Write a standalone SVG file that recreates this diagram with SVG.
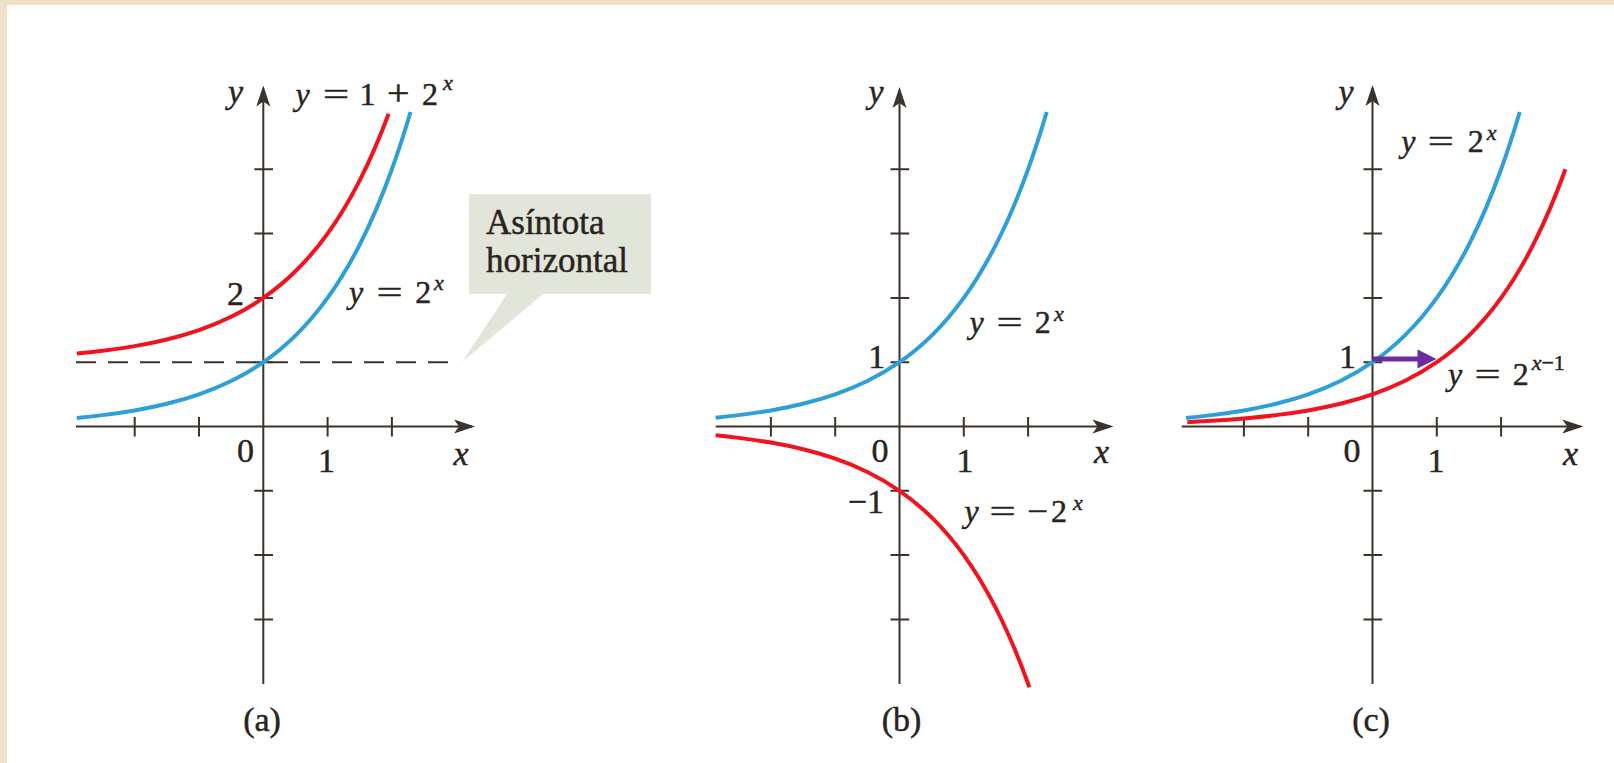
<svg xmlns="http://www.w3.org/2000/svg" xmlns:xlink="http://www.w3.org/1999/xlink" width="1614" height="763" viewBox="0 0 1614 763">
<style>
.t{font-family:"Liberation Serif","Times New Roman",serif;fill:#2a2420;stroke:#2a2420;stroke-width:0.45}
.lab{font-size:34px}
.eq{font-size:32px}
.sup{font-size:22px}
.cap{font-size:35px}
.i{font-style:italic}
.m{text-anchor:middle}
.ax{stroke:#3b332c;stroke-width:2;fill:none}
.tick{stroke:#3b332c;stroke-width:2}
.blue{stroke:#2e9fd8;fill:none;stroke-width:0.0622}
.red{stroke:#f0141e;fill:none;stroke-width:0.0622}
</style>
<defs>
<marker id="axArrow" viewBox="-20 -8 24 16" refX="0" refY="0" markerWidth="24" markerHeight="16" orient="auto" markerUnits="userSpaceOnUse">
<path d="M3,0 L-18,-7 L-13,0 L-18,7 Z" fill="#3b332c"/>
</marker>
<marker id="shiftArrow" viewBox="-14 -10 22 20" refX="0" refY="0" markerWidth="22" markerHeight="20" orient="auto" markerUnits="userSpaceOnUse">
<path d="M6.5,0 L-12.5,-9.5 L-12.5,9.5 Z" fill="#6b2d9e"/>
</marker>
<path id="exp" d="M-2.9 0.133975 C-2.7667 0.146357 -2.6333 0.160439 -2.5 0.176777 C-2.3333 0.197199 -2.1667 0.221119 -2 0.25 C-1.8333 0.278881 -1.6667 0.312709 -1.5 0.353553 C-1.3333 0.394397 -1.1667 0.442238 -1 0.5 C-0.8333 0.557762 -0.6667 0.625419 -0.5 0.707107 C-0.3333 0.788795 -0.1667 0.884476 0 1 C0.1667 1.115525 0.3333 1.250838 0.5 1.414214 C0.6667 1.57759 0.8333 1.768951 1 2 C1.1667 2.231049 1.3333 2.501677 1.5 2.828427 C1.6667 3.155183 1.8333 3.537902 2 4 C2.0967 4.268017 2.1933 4.56287 2.29 4.89056"/>
</defs>

<rect x="0" y="0" width="1614" height="763" fill="#efe2c8"/>
<rect x="7" y="5" width="1607" height="758" fill="#ffffff"/>

<!-- Panel (a) -->
<g id="panel-a">
<path d="M469 194 H651 V294 H543 L462 362 L507 294 H469 Z" fill="#e2e6da"/>
<g id="axes-a">
<path class="ax" d="M263.3 684 V88.5" marker-end="url(#axArrow)"/>
<path class="ax" d="M76 426.5 H472" marker-end="url(#axArrow)"/>
<path class="tick" d="M134.7 417 V436.5 M199 417 V436.5 M327.6 417 V436.5 M391.9 417 V436.5 M254.3 169.3 H273 M254.3 233.6 H273 M254.3 297.9 H273 M254.3 362.2 H273 M254.3 490.8 H273 M254.3 555.1 H273 M254.3 619.4 H273"/>
<path d="M76 362.2 H456" stroke="#3b332c" stroke-width="2" stroke-dasharray="20 12" fill="none"/>
</g>
<g id="curves-a">
<use xlink:href="#exp" class="blue" transform="translate(263.3,426.5) scale(64.3,-64.3)"/>
<path class="red" transform="translate(263.3,362.2) scale(64.3,-64.3)" d="M-2.9 0.133975 C-2.7667 0.146357 -2.6333 0.160439 -2.5 0.176777 C-2.3333 0.197199 -2.1667 0.221119 -2 0.25 C-1.8333 0.278881 -1.6667 0.312709 -1.5 0.353553 C-1.3333 0.394397 -1.1667 0.442238 -1 0.5 C-0.8333 0.557762 -0.6667 0.625419 -0.5 0.707107 C-0.3333 0.788795 -0.1667 0.884476 0 1 C0.1667 1.115525 0.3333 1.250838 0.5 1.414214 C0.6667 1.57759 0.8333 1.768951 1 2 C1.1667 2.231049 1.3333 2.501677 1.5 2.828427 C1.65 3.122504 1.8 3.462019 1.95 3.86374"/>
</g>
<g id="labels-a">
<text class="t lab i m" x="235.5" y="103">y</text>
<text class="t eq i m" x="302.5" y="105">y</text>
<text class="t eq m" transform="translate(336,105) scale(1.45,1)">=</text>
<text class="t eq m" x="367.5" y="105">1</text>
<text class="t eq m" transform="translate(398.4,105) scale(1.25,1.1)">+</text>
<text class="t eq m" x="430" y="105">2</text>
<text class="t sup i m" x="448" y="90">x</text>
<text class="t lab m" x="235.5" y="305">2</text>
<text class="t eq i m" x="356" y="303.3">y</text>
<text class="t eq m" transform="translate(389.7,303.3) scale(1.45,1)">=</text>
<text class="t eq m" x="423.3" y="303.3">2</text>
<text class="t sup i m" x="439" y="290">x</text>
<text class="t lab m" x="245.5" y="461.5">0</text>
<text class="t lab m" x="326.4" y="471.5">1</text>
<text class="t lab i m" x="461" y="465">x</text>
<text class="t cap" x="486" y="234">Asíntota</text>
<text class="t cap" x="486" y="271.7">horizontal</text>
<text class="t lab m" x="262" y="731">(a)</text>
</g>
</g>

<!-- Panel (b) -->
<g id="panel-b">
<g id="axes-b">
<path class="ax" d="M899.5 684 V90" marker-end="url(#axArrow)"/>
<path class="ax" d="M715.7 426.5 H1110.5" marker-end="url(#axArrow)"/>
<path class="tick" d="M770.9 417 V436.5 M835.2 417 V436.5 M963.8 417 V436.5 M1028.1 417 V436.5 M890.5 169.3 H909.2 M890.5 233.6 H909.2 M890.5 297.9 H909.2 M890.5 362.2 H909.2 M890.5 490.8 H909.2 M890.5 555.1 H909.2 M890.5 619.4 H909.2"/>
</g>
<g id="curves-b">
<path class="blue" transform="translate(899.5,426.5) scale(64.3,-64.3)" d="M-2.86 0.13774 C-2.74 0.149197 -2.62 0.162073 -2.5 0.176777 C-2.3333 0.197199 -2.1667 0.221119 -2 0.25 C-1.8333 0.278881 -1.6667 0.312709 -1.5 0.353553 C-1.3333 0.394397 -1.1667 0.442238 -1 0.5 C-0.8333 0.557762 -0.6667 0.625419 -0.5 0.707107 C-0.3333 0.788795 -0.1667 0.884476 0 1 C0.1667 1.115525 0.3333 1.250838 0.5 1.414214 C0.6667 1.57759 0.8333 1.768951 1 2 C1.1667 2.231049 1.3333 2.501677 1.5 2.828427 C1.6667 3.155183 1.8333 3.537902 2 4 C2.0967 4.268017 2.1933 4.56287 2.29 4.89056"/>
<path class="red" transform="translate(899.5,426.5) scale(64.3,64.3)" d="M-2.86 0.13774 C-2.74 0.149197 -2.62 0.162073 -2.5 0.176777 C-2.3333 0.197199 -2.1667 0.221119 -2 0.25 C-1.8333 0.278881 -1.6667 0.312709 -1.5 0.353553 C-1.3333 0.394397 -1.1667 0.442238 -1 0.5 C-0.8333 0.557762 -0.6667 0.625419 -0.5 0.707107 C-0.3333 0.788795 -0.1667 0.884476 0 1 C0.1667 1.115525 0.3333 1.250838 0.5 1.414214 C0.6667 1.57759 0.8333 1.768951 1 2 C1.1667 2.231049 1.3333 2.501677 1.5 2.828427 C1.6667 3.155183 1.8333 3.537902 2 4 L2.02 4.05584"/>
</g>
<g id="labels-b">
<text class="t lab i m" x="876" y="103">y</text>
<text class="t eq i m" x="976.5" y="333">y</text>
<text class="t eq m" transform="translate(1009.7,333) scale(1.45,1)">=</text>
<text class="t eq m" x="1042.8" y="333">2</text>
<text class="t sup i m" x="1059" y="321">x</text>
<text class="t lab m" x="876.7" y="368">1</text>
<text class="t lab m" x="880" y="461.5">0</text>
<text class="t lab m" x="965" y="471.5">1</text>
<text class="t lab i m" x="1101.5" y="463">x</text>
<text class="t lab" x="884" y="513.3" text-anchor="end">−1</text>
<text class="t eq i m" x="971.5" y="521.5">y</text>
<text class="t eq m" transform="translate(1002.5,521.5) scale(1.45,1)">=</text>
<text class="t eq m" transform="translate(1037.3,521.5) scale(1.15,1)">−</text>
<text class="t eq m" x="1059" y="521.5">2</text>
<text class="t sup i m" x="1078" y="510">x</text>
<text class="t lab m" x="901.5" y="731">(b)</text>
</g>
</g>

<!-- Panel (c) -->
<g id="panel-c">
<g id="axes-c">
<path class="ax" d="M1372.5 684 V88" marker-end="url(#axArrow)"/>
<path class="ax" d="M1181.7 426.5 H1580.3" marker-end="url(#axArrow)"/>
<path class="tick" d="M1243.9 417 V436.5 M1308.2 417 V436.5 M1436.8 417 V436.5 M1501.1 417 V436.5 M1363.5 169.3 H1382.2 M1363.5 233.6 H1382.2 M1363.5 297.9 H1382.2 M1363.5 362.2 H1382.2 M1363.5 490.8 H1382.2 M1363.5 555.1 H1382.2 M1363.5 619.4 H1382.2"/>
</g>
<g id="curves-c">
<use xlink:href="#exp" class="blue" transform="translate(1372.5,426.5) scale(64.3,-64.3)"/>
<path class="red" transform="translate(1436.8,426.5) scale(64.3,-64.3)" d="M-3.88 0.06793 C-3.7533 0.073894 -3.6267 0.080628 -3.5 0.088388 C-3.3333 0.098599 -3.1667 0.110559 -3 0.125 C-2.8333 0.139441 -2.6667 0.156355 -2.5 0.176777 C-2.3333 0.197199 -2.1667 0.221119 -2 0.25 C-1.8333 0.278881 -1.6667 0.312709 -1.5 0.353553 C-1.3333 0.394397 -1.1667 0.442238 -1 0.5 C-0.8333 0.557762 -0.6667 0.625419 -0.5 0.707107 C-0.3333 0.788795 -0.1667 0.884476 0 1 C0.1667 1.115525 0.3333 1.250838 0.5 1.414214 C0.6667 1.57759 0.8333 1.768951 1 2 C1.1667 2.231049 1.3333 2.501677 1.5 2.828427 C1.6667 3.155183 1.8333 3.537902 2 4"/>
</g>
<g id="shift-arrow">
<path d="M1372.5 359 H1430" stroke="#6b2d9e" stroke-width="5" fill="none" marker-end="url(#shiftArrow)"/>
</g>
<g id="labels-c">
<text class="t lab i m" x="1346" y="103">y</text>
<text class="t eq i m" x="1408.3" y="151.7">y</text>
<text class="t eq m" transform="translate(1440.8,151.7) scale(1.45,1)">=</text>
<text class="t eq m" x="1475.8" y="151.7">2</text>
<text class="t sup i m" x="1491.7" y="140">x</text>
<text class="t lab m" x="1347.5" y="368">1</text>
<text class="t eq i m" x="1455" y="385">y</text>
<text class="t eq m" transform="translate(1487.5,385) scale(1.45,1)">=</text>
<text class="t eq m" x="1520.8" y="385">2</text>
<text class="t sup" x="1531.7" y="370"><tspan class="i">x</tspan>−1</text>
<text class="t lab m" x="1352" y="461.5">0</text>
<text class="t lab m" x="1436" y="471.5">1</text>
<text class="t lab i m" x="1570.5" y="465">x</text>
<text class="t lab m" x="1371" y="731">(c)</text>
</g>
</g>
</svg>
